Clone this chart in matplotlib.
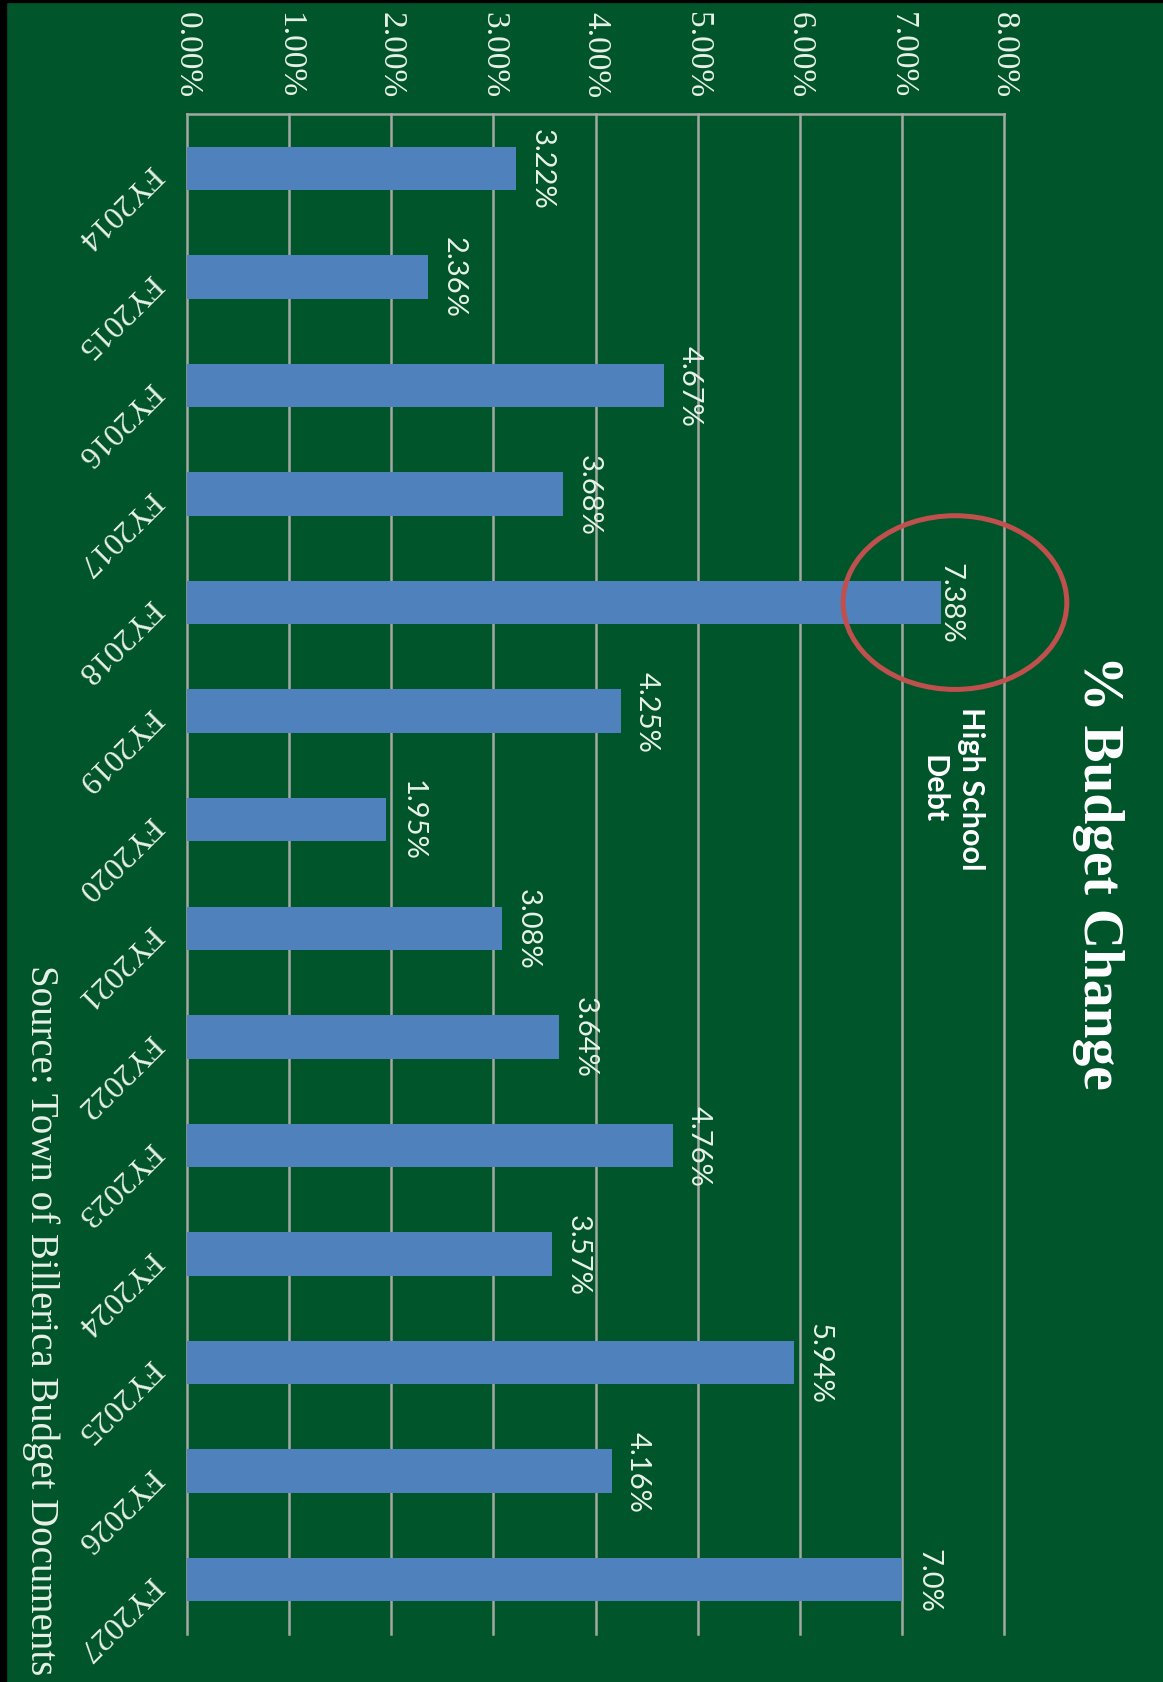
import matplotlib
matplotlib.use("Agg")
import matplotlib.pyplot as plt
from matplotlib.patches import Ellipse, Rectangle

# ---- data ----
fiscal_years = ["FY2014", "FY2015", "FY2016", "FY2017", "FY2018", "FY2019", "FY2020",
                "FY2021", "FY2022", "FY2023", "FY2024", "FY2025", "FY2026", "FY2027"]
budget_change = [3.22, 2.36, 4.67, 3.68, 7.38, 4.25, 1.95,
                 3.08, 3.64, 4.76, 3.57, 5.94, 4.16, 7.0]
value_labels = ["3.22%", "2.36%", "4.67%", "3.68%", "7.38%", "4.25%", "1.95%",
                "3.08%", "3.64%", "4.76%", "3.57%", "5.94%", "4.16%", "7.0%"]
tick_values = [0, 1, 2, 3, 4, 5, 6, 7, 8]
tick_labels = ["0.00%", "1.00%", "2.00%", "3.00%", "4.00%", "5.00%", "6.00%", "7.00%", "8.00%"]
title_text = "% Budget Change"
source_text = "Source: Town of Billerica Budget Documents"
callout_text = "High School\nDebt"
callout_index = 4

# ---- style ----
BG = "#01552B"
BAR = "#4F81BD"
GRID = "#A3A8A3"
TXT = "#E8F1E8"
RED = "#C0504D"
SERIF = ["Liberation Serif", "DejaVu Serif"]
SANS = ["Lato", "Open Sans", "DejaVu Sans"]

W, H = 1163, 1683
fig = plt.figure(figsize=(W / 100, H / 100), dpi=100, facecolor=BG)

ax_left, ax_right = 187, 1004
ax_top, ax_bottom = 115, 1635
ax = fig.add_axes([ax_left / W, 1 - ax_bottom / H,
                   (ax_right - ax_left) / W, (ax_bottom - ax_top) / H])
ax.set_facecolor(BG)

pos = list(range(len(fiscal_years)))
ax.barh(pos, budget_change, height=0.40, color=BAR, zorder=3)

ax.set_xlim(0, 8)
ax.set_ylim(len(fiscal_years) - 0.5, -0.5)

# value axis on top, labels rotated to read top->bottom
ax.xaxis.tick_top()
ax.set_xticks(tick_values)
ax.set_xticklabels(tick_labels, rotation=-90, ha="center", va="bottom",
                   fontsize=24, family=SERIF, color=TXT)
ax.tick_params(axis="x", length=0, pad=12)

ax.set_yticks(pos)
ax.set_yticklabels(fiscal_years, rotation=225, rotation_mode="anchor",
                   ha="left", va="center", fontsize=23, family=SERIF, color=TXT)
ax.tick_params(axis="y", length=0, pad=23)

ax.grid(axis="x", color=GRID, linewidth=1.8, zorder=1)
ax.grid(axis="y", visible=False)
for side in ["left", "right", "bottom"]:
    ax.spines[side].set_visible(False)
ax.spines["top"].set_color(GRID)
ax.spines["top"].set_linewidth(1.8)
for gl in ax.get_xgridlines():
    gl.set_clip_on(False)

# data labels
for i, (v, lab) in enumerate(zip(budget_change, value_labels)):
    dx = -2.5 if i == callout_index else 9.4
    ax.annotate(lab, xy=(v, i), xytext=(dx, 0), textcoords="offset points",
                rotation=-90, ha="left", va="center", fontsize=21,
                family=SANS, color=TXT, zorder=4)

# callout ellipse and note
ax.add_patch(Ellipse((7.52, callout_index), width=2.19, height=1.60, fill=False,
                     edgecolor=RED, linewidth=3.6, clip_on=False, zorder=5))
fig.text(952 / W, 1 - 707 / H, callout_text, rotation=-90, ha="center", va="top",
         fontsize=22, fontweight="bold", family=SANS, color="white",
         linespacing=1.4)

# title and source
fig.text(1098 / W, 1 - 872 / H, title_text, rotation=-90, ha="center", va="center",
         fontsize=40, fontweight="bold", family=SERIF, color="white")
fig.text(41 / W, 1 - 1320 / H, source_text, rotation=-90, ha="center", va="center",
         fontsize=28, family=SERIF, color=TXT)

# black frame edges (top and left)
fig.add_artist(Rectangle((0, 1 - 3 / H), 1, 3 / H, transform=fig.transFigure,
                         color="black", zorder=10))
fig.add_artist(Rectangle((0, 0), 6 / W, 1, transform=fig.transFigure,
                         color="black", zorder=10))

fig.savefig("out.png", dpi=100, facecolor=BG)
